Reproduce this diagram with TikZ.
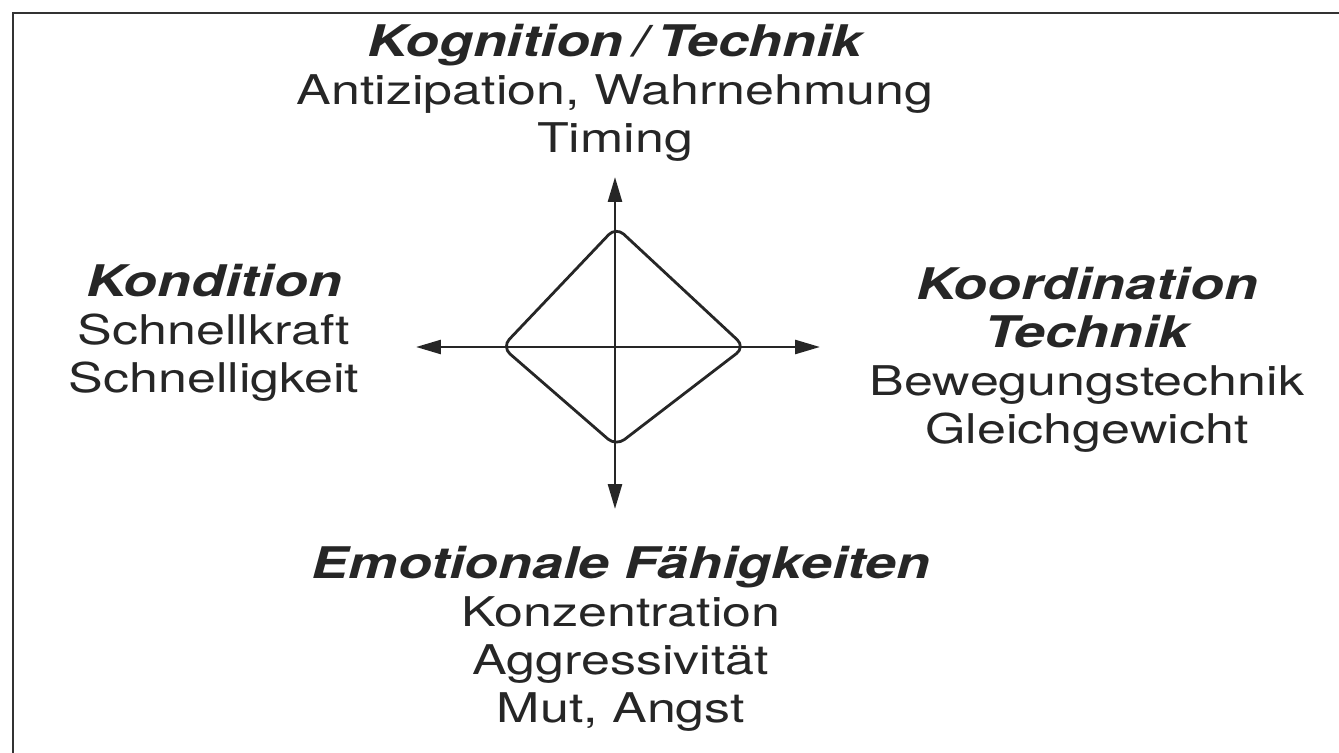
\documentclass[tikz,border=0pt]{standalone}
\usepackage{fontspec}
\setmainfont{TeX Gyre Heros}
\usetikzlibrary{arrows.meta,positioning}
\tikzset{
fieldtext/.style={align=center, inner sep=0pt, text=black!85, xscale=1.27, font=\fontsize{23.3}{27.3}\selectfont},
axisarrow/.style={-{Triangle[length=5mm,width=2.8mm]}, line width=1.5pt, draw=black!85, fill=black!85},
profileline/.style={line width=1.6pt, rounded corners=6pt, draw=black!85},
frameline/.style={line width=1.1pt, draw=black!80}
}
\newcommand{\fieldhead}[1]{{\fontsize{24.8}{27.3}\selectfont\bfseries\itshape #1}}

\begin{document}
\begin{tikzpicture}[x=0.02cm, y=-0.02cm]
\useasboundingbox (0,0) rectangle (1339,753);
\draw[frameline] (13,753) -- (13,13) -- (1339,13);

% axes
\coordinate (ctr) at (615,347);
\coordinate (north) at (615,177);
\coordinate (south) at (615,509);
\coordinate (west) at (416,347);
\coordinate (east) at (820,347);

\draw[axisarrow] (ctr) -- (north);
\draw[axisarrow] (ctr) -- (south);
\draw[axisarrow] (ctr) -- (west);
\draw[axisarrow] (ctr) -- (east);

% profile
\coordinate (ptop) at (616,227);
\coordinate (pright) at (745,347);
\coordinate (pbottom) at (616,446);
\coordinate (pleft) at (502,347);
\draw[profileline] (ptop) -- (pright) -- (pbottom) -- (pleft) -- cycle;

% fields
\node[fieldtext] (kognition) at (615,93) {\fieldhead{Kognition\,/\,Technik}\\Antizipation, Wahrnehmung\\Timing};
\node[fieldtext] (kondition) at (214,333) {\fieldhead{Kondition}\\Schnellkraft\\Schnelligkeit};
\node[fieldtext] (koordination) at (1087,360) {\fieldhead{Koordination}\\\fieldhead{Technik}\\Bewegungstechnik\\Gleichgewicht};
\node[fieldtext] (emotion) at (621,639) {\fieldhead{Emotionale Fähigkeiten}\\Konzentration\\Aggressivität\\Mut, Angst};
\end{tikzpicture}
\end{document}
